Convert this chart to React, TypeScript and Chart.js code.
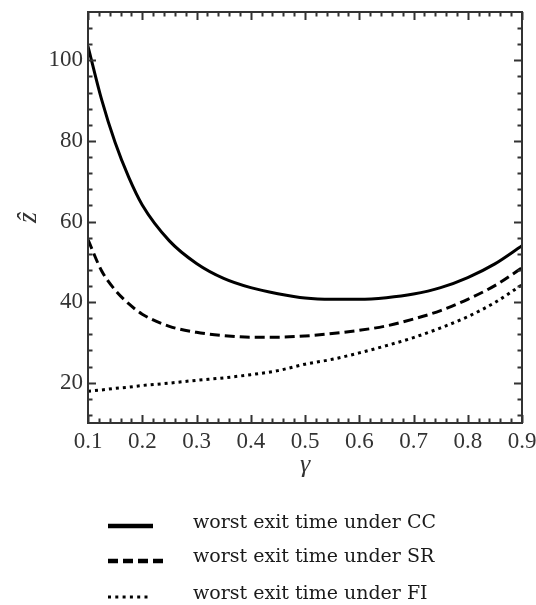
import React, { useEffect, useRef } from 'react';
import { Chart, registerables } from 'chart.js';

Chart.register(...registerables);

// ---- data ----
const gamma = [0.10, 0.125, 0.15, 0.175, 0.20, 0.25, 0.30, 0.35, 0.40, 0.45, 0.50, 0.55, 0.60, 0.65, 0.70, 0.75, 0.80, 0.85, 0.90];
const worstCC = [103.5, 90.3, 79.6, 71.0, 64.1, 55.2, 49.6, 45.9, 43.6, 42.1, 41.0, 40.7, 40.7, 41.1, 42.0, 43.6, 46.1, 49.5, 54.0];
const worstSR = [55.5, 47.8, 43.0, 39.6, 37.0, 34.0, 32.5, 31.7, 31.3, 31.3, 31.6, 32.2, 33.0, 34.1, 35.8, 37.9, 40.7, 44.1, 48.5];
const worstFI = [17.9, 18.2, 18.6, 18.9, 19.3, 19.9, 20.6, 21.2, 22.0, 23.0, 24.6, 25.8, 27.4, 29.2, 31.2, 33.6, 36.4, 39.9, 44.3];
const seriesLabels = ['worst exit time under CC', 'worst exit time under SR', 'worst exit time under FI'];
const xTickValues = [0.1, 0.2, 0.3, 0.4, 0.5, 0.6, 0.7, 0.8, 0.9];
const yTickValues = [20, 40, 60, 80, 100];
const xRange = [0.1, 0.9];
const yRange = [10, 112];
const xMinorStep = 0.02;
const yMinorStep = 4;

const TICK_FONT = { family: "'Liberation Serif', 'Times New Roman', serif", size: 23 };
const AXIS_COLOR = '#333';

const framePlugin = {
  id: 'frameTicks',
  afterDatasetsDraw(chart: any) {
    const { ctx, chartArea, scales } = chart;
    const { left, right, top, bottom } = chartArea;
    const xs = scales.x;
    const ys = scales.y;
    ctx.save();
    ctx.strokeStyle = AXIS_COLOR;
    ctx.lineWidth = 2;
    ctx.beginPath();
    const isMajor = (v: number, list: number[]) => list.some((t) => Math.abs(t - v) < 1e-6);
    for (let v = xRange[0]; v <= xRange[1] + 1e-6; v += xMinorStep) {
      const px = Math.round(xs.getPixelForValue(v)) + 0.5;
      const len = isMajor(v, xTickValues) ? 8 : 4.5;
      ctx.moveTo(px, bottom);
      ctx.lineTo(px, bottom - len);
      ctx.moveTo(px, top);
      ctx.lineTo(px, top + len);
    }
    for (let v = 12; v < yRange[1] - 1e-6; v += yMinorStep) {
      const py = Math.round(ys.getPixelForValue(v)) + 0.5;
      const len = isMajor(v, yTickValues) ? 8 : 4.5;
      ctx.moveTo(left, py);
      ctx.lineTo(left + len, py);
      ctx.moveTo(right, py);
      ctx.lineTo(right - len, py);
    }
    ctx.stroke();
    ctx.lineWidth = 2;
    ctx.strokeRect(left, top, right - left, bottom - top);
    ctx.restore();
  },
};

const legendPlugin = {
  id: 'bottomLegend',
  afterDraw(chart: any) {
    const { ctx } = chart;
    const rows = [
      { y: 526, len: 45, width: 4.5 },
      { y: 561, len: 55, width: 4.5 },
      { y: 597, len: 43, width: 3 },
    ];
    const textY = [523, 557, 594];
    ctx.save();
    chart.data.datasets.forEach((ds: any, i: number) => {
      const r = rows[i];
      ctx.strokeStyle = '#000';
      ctx.lineWidth = r.width;
      ctx.lineCap = 'butt';
      ctx.setLineDash(i === 1 ? [10, 5] : i === 2 ? [3, 4.3] : []);
      ctx.beginPath();
      ctx.moveTo(108, r.y);
      ctx.lineTo(108 + r.len, r.y);
      ctx.stroke();
      ctx.setLineDash([]);
      ctx.fillStyle = '#1a1a1a';
      ctx.font = "19px 'DejaVu Serif', serif";
      ctx.textBaseline = 'middle';
      ctx.textAlign = 'left';
      ctx.fillText(ds.label, 193, textY[i]);
    });
    ctx.restore();
  },
};

export default function App() {
  const ref = useRef<HTMLCanvasElement | null>(null);
  useEffect(() => {
    document.body.style.margin = '0';
    if (!ref.current) return;
    const mk = (ys: number[]) => gamma.map((g, i) => ({ x: g, y: ys[i] }));
    const chart = new Chart(ref.current, {
      type: 'line',
      data: {
        datasets: [
          { label: seriesLabels[0], data: mk(worstCC), borderColor: '#000', borderWidth: 3, pointRadius: 0, cubicInterpolationMode: 'monotone', fill: false },
          { label: seriesLabels[1], data: mk(worstSR), borderColor: '#000', borderWidth: 3, borderDash: [10, 5], pointRadius: 0, cubicInterpolationMode: 'monotone', fill: false },
          { label: seriesLabels[2], data: mk(worstFI), borderColor: '#000', borderWidth: 3, borderDash: [3, 4], pointRadius: 0, cubicInterpolationMode: 'monotone', fill: false },
        ],
      },
      options: {
        responsive: false,
        animation: false,
        layout: { padding: { top: 12, right: 14, bottom: 122, left: 0 } },
        plugins: { legend: { display: false }, tooltip: { enabled: false } },
        scales: {
          x: {
            type: 'linear',
            min: xRange[0],
            max: xRange[1],
            grid: { display: false, drawTicks: false },
            border: { display: false },
            afterBuildTicks: (s: any) => { s.ticks = xTickValues.map((v) => ({ value: v })); },
            afterFit: (s: any) => { s.height = 60; s.paddingLeft = 0; s.paddingRight = 0; },
            ticks: {
              font: TICK_FONT,
              color: AXIS_COLOR,
              padding: 5,
              maxRotation: 0,
              autoSkip: false,
              callback: (v: any) => Number(v).toFixed(1),
            },
            title: {
              display: true,
              text: 'γ',
              color: AXIS_COLOR,
              font: { family: "'Liberation Serif', serif", size: 26, style: 'italic' },
              padding: { top: 0, bottom: 2 },
            },
          },
          y: {
            type: 'linear',
            min: yRange[0],
            max: yRange[1],
            grid: { display: false, drawTicks: false },
            border: { display: false },
            afterBuildTicks: (s: any) => { s.ticks = yTickValues.map((v) => ({ value: v })); },
            afterFit: (s: any) => { s.width = 88; s.paddingTop = 0; s.paddingBottom = 0; },
            ticks: {
              font: TICK_FONT,
              color: AXIS_COLOR,
              padding: 5,
              autoSkip: false,
            },
            title: {
              display: true,
              text: 'ẑ',
              color: AXIS_COLOR,
              font: { family: "'Liberation Serif', serif", size: 28, style: 'italic' },
              padding: { top: 12, bottom: 0 },
            },
          },
        },
      },
      plugins: [framePlugin, legendPlugin],
    } as any);
    return () => chart.destroy();
  }, []);
  return <canvas ref={ref} width={536} height={605} style={{ display: 'block' }} />;
}
